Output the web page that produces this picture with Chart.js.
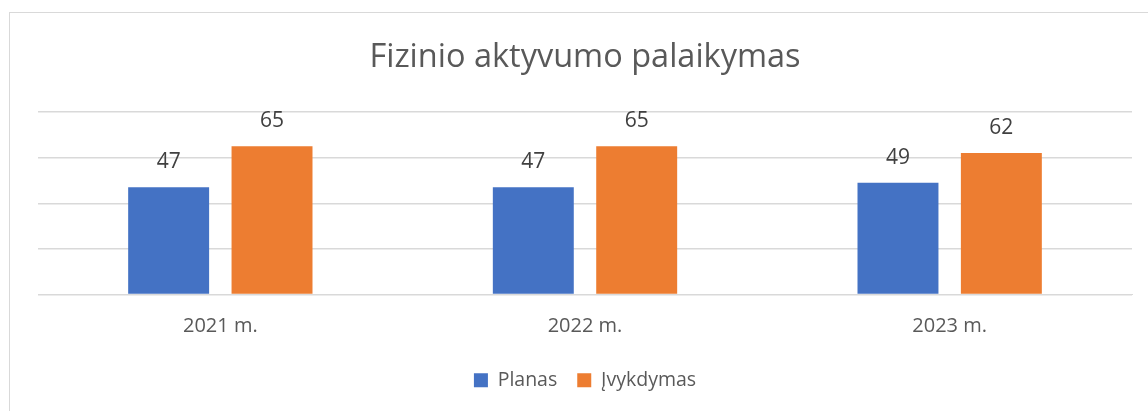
<!DOCTYPE html>
<html>
<head>
<meta charset="utf-8">
<script src="https://cdn.jsdelivr.net/npm/chart.js@4"></script>
<style>
  html, body { margin: 0; padding: 0; background: #fff; overflow: hidden; }
  #wrap { position: relative; width: 1148px; height: 411px; }
  #frame { position: absolute; left: 9px; top: 12px; width: 1200px; height: 450px;
           border-left: 1px solid #d9d9d9; border-top: 1px solid #d9d9d9; }
  #chart { position: absolute; left: 0; top: 0; }
</style>
</head>
<body>
<div id="wrap">
  <div id="frame"></div>
  <canvas id="chart" width="1148" height="411"></canvas>
</div>
<script>
const categories = ['2021 m.', '2022 m.', '2023 m.'];
const planas = [47, 47, 49];
const ivykdymas = [65, 65, 62];
const seriesNames = ['Planas', 'Įvykdymas'];

const FONT = '"Open Sans", "Noto Sans", sans-serif';

// value labels above each bar
const barLabels = {
    id: 'barLabels',
    afterDatasetsDraw(chart) {
        const c = chart.ctx;
        c.save();
        c.font = '21px ' + FONT;
        c.fillStyle = '#404040';
        c.textAlign = 'center';
        c.textBaseline = 'middle';
        chart.data.datasets.forEach(function (ds, i) {
            chart.getDatasetMeta(i).data.forEach(function (bar, j) {
                c.fillText(ds.data[j], bar.x, bar.y - 25);
            });
        });
        c.restore();
    }
};

new Chart(document.getElementById('chart').getContext('2d'), {
    type: 'bar',
    data: {
        labels: categories,
        datasets: [{
            label: seriesNames[0],
            data: planas,
            backgroundColor: '#4472c4',
            categoryPercentage: 0.567,
            barPercentage: 0.783
        }, {
            label: seriesNames[1],
            data: ivykdymas,
            backgroundColor: '#ed7d31',
            categoryPercentage: 0.567,
            barPercentage: 0.783
        }]
    },
    options: {
        responsive: false,
        animation: false,
        layout: { padding: { left: 38, right: 16, top: 0, bottom: 11 } },
        scales: {
            x: {
                grid: { display: false },
                border: { color: '#d9d9d9', width: 1 },
                ticks: { color: '#595959', font: { family: FONT, size: 20 }, padding: 12 },
                afterFit: function (s) { s.height = 56; }
            },
            y: {
                min: 0,
                max: 80,
                ticks: { display: false, stepSize: 20 },
                border: { display: false },
                grid: { color: '#d9d9d9', lineWidth: 1.5, drawTicks: false },
                afterFit: function (s) { s.width = 0; }
            }
        },
        plugins: {
            title: {
                display: true,
                text: 'Fizinio aktyvumo palaikymas',
                color: '#595959',
                font: { family: FONT, size: 32.5, weight: 'normal' },
                padding: { top: 38, bottom: 35 }
            },
            legend: {
                position: 'bottom',
                labels: {
                    color: '#595959',
                    font: { family: FONT, size: 19.5 },
                    boxWidth: 14,
                    boxHeight: 14,
                    padding: 20
                }
            },
            tooltip: { enabled: false }
        }
    },
    plugins: [barLabels]
});
</script>
</body>
</html>
